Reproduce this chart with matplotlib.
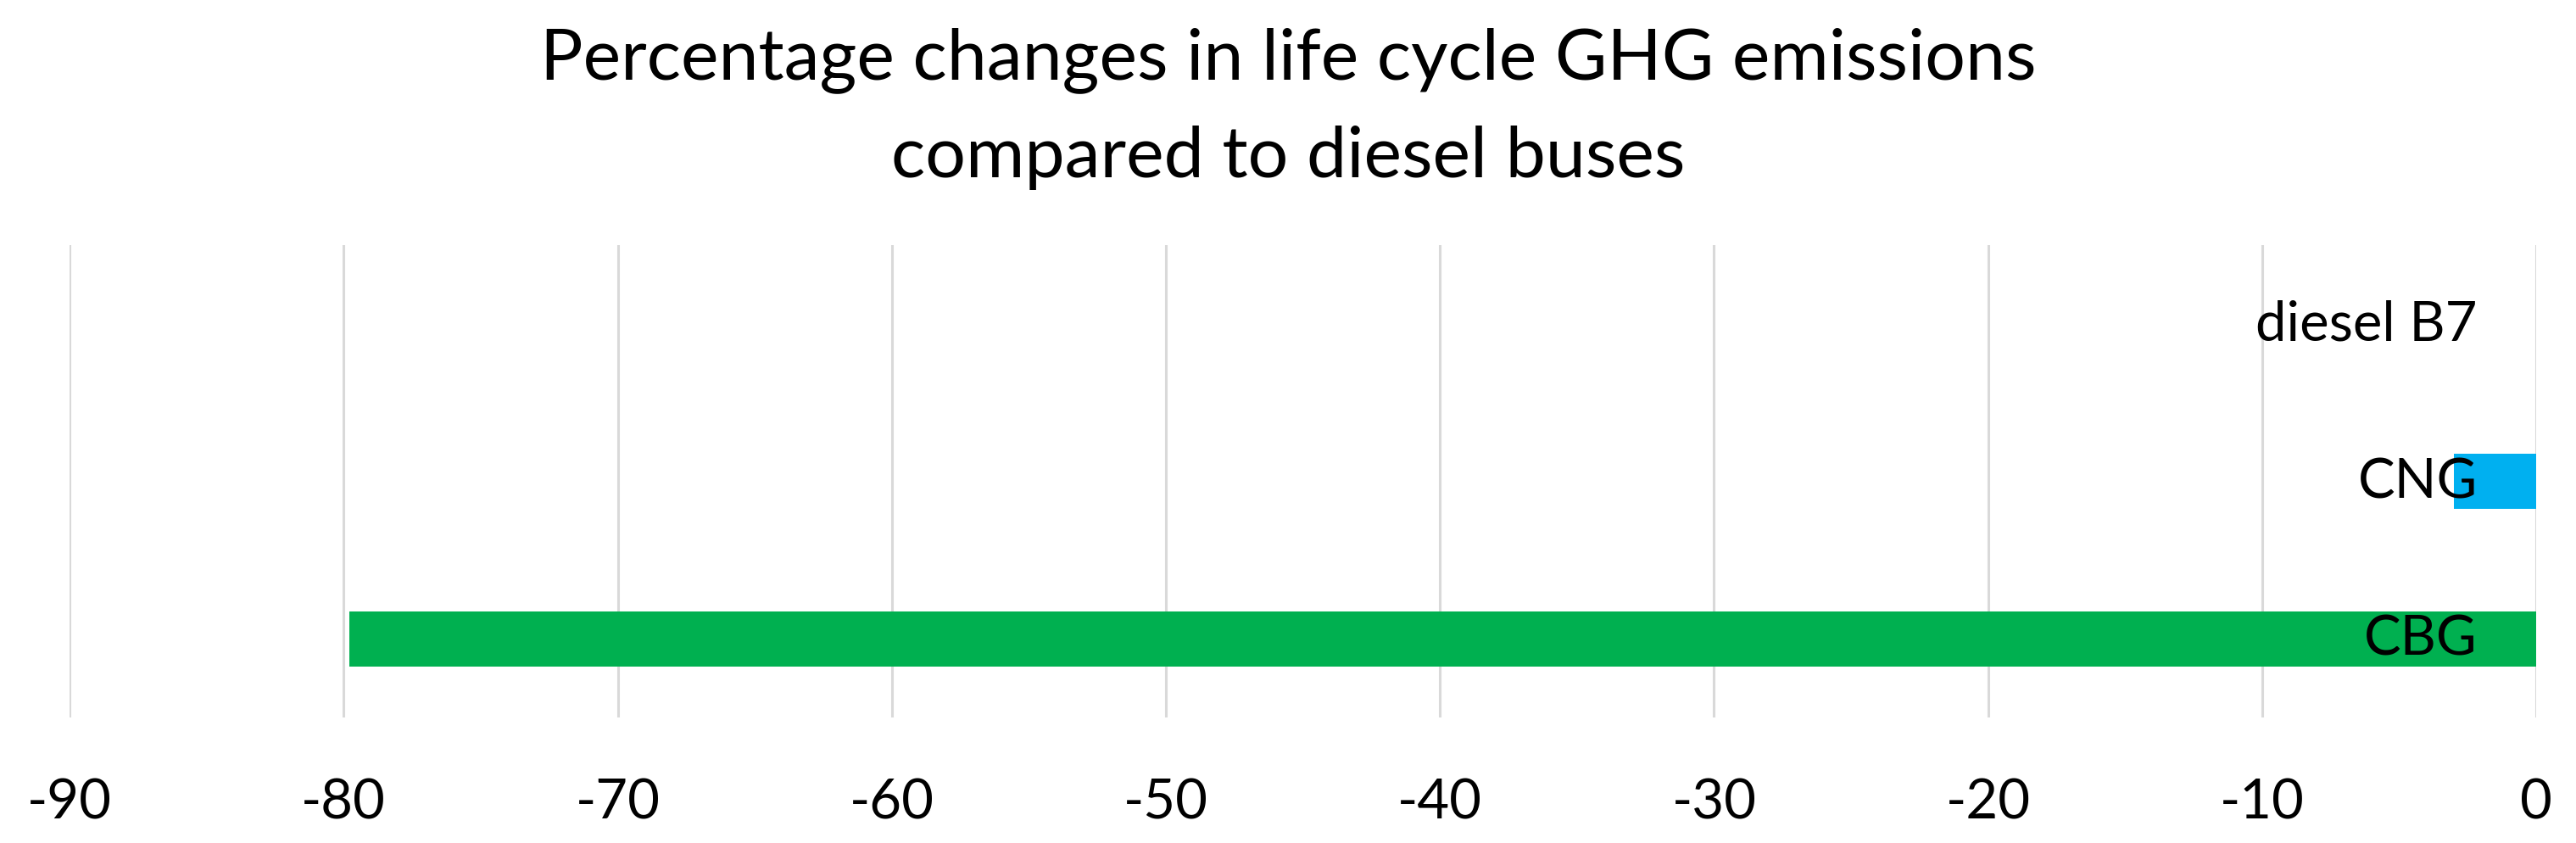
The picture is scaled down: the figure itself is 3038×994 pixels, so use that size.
import matplotlib
matplotlib.use("Agg")
import matplotlib.pyplot as plt

categories = ["diesel B7", "CNG", "CBG"]
values = [0.0, -3.0, -79.8]
colors = ["#4472C4", "#00B0F0", "#00B050"]
xticks = list(range(-90, 1, 10))
title = "Percentage changes in life cycle GHG emissions\ncompared to diesel buses"

plt.rcParams['font.family'] = ['Lato', 'DejaVu Sans']

fig = plt.figure(figsize=(30.38, 9.95), dpi=100)
ax = fig.add_axes([0.027, 0.1487, 0.9576, 0.5598])

ypos = list(range(len(categories)))
ax.barh(ypos, values, height=0.35, color=colors, zorder=2)
ax.set_ylim(len(categories) - 0.5, -0.5)
ax.set_xlim(-90, 0)
ax.set_xticks(xticks)
ax.set_xticklabels([str(t) for t in xticks], fontsize=47)
ax.set_yticks([])
ax.tick_params(axis='x', length=0, pad=51)
ax.grid(axis='x', color='#D9D9D9', linewidth=2.2, zorder=0)
for s in ax.spines.values():
    s.set_visible(False)

for y, cat in zip(ypos, categories):
    ax.annotate(cat, xy=(0, y), xytext=(-50, 0), textcoords='offset points',
                ha='right', va='center', fontsize=47, color='black', zorder=3)

fig.text(0.5, 0.871, title, ha='center', va='center', fontsize=60.7,
         linespacing=1.63)

fig.savefig("out.png", dpi=100, facecolor='white')
